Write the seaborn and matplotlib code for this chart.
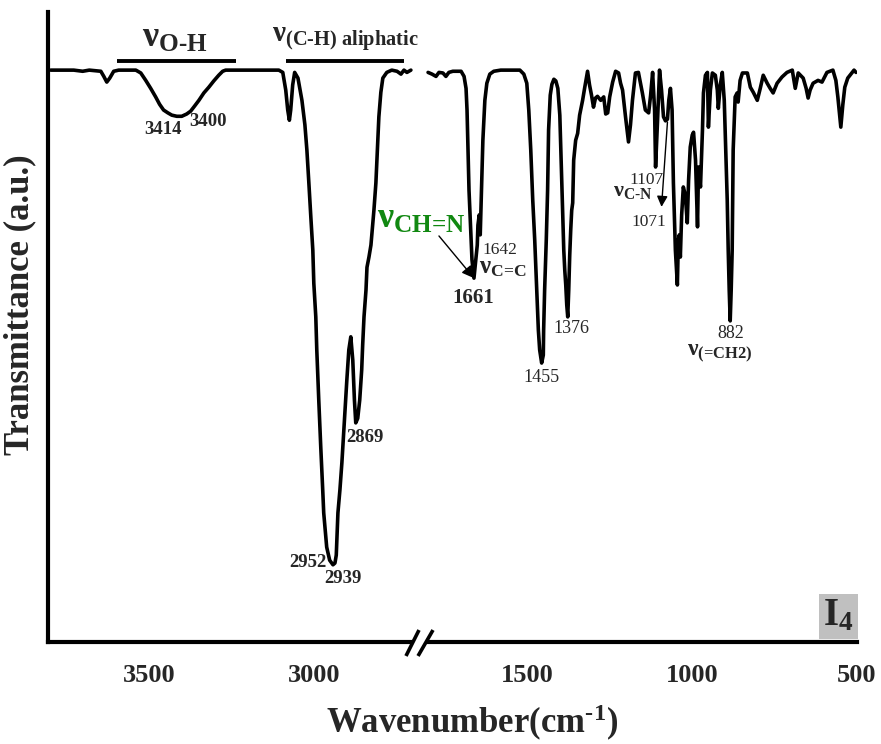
import numpy as np
import pandas as pd
import matplotlib
matplotlib.use("Agg")
import matplotlib.pyplot as plt
import seaborn as sns

# ---------------- data ----------------
# high-wavenumber segment (3800 - 2700 cm-1)
wn_high = [3797, 3727, 3700, 3680, 3645, 3636, 3627, 3618, 3606, 3591, 3539, 3524, 3509,
           3494, 3479, 3467, 3455, 3442, 3430, 3415, 3400, 3385, 3373, 3361, 3348, 3333,
           3318, 3303, 3288, 3276, 3267, 3106, 3094, 3085, 3079, 3074, 3070, 3064, 3058,
           3048, 3036, 3027, 3021, 3015, 3009, 3003, 3000, 2994, 2991, 2985, 2979, 2973,
           2970, 2961, 2952, 2942, 2936, 2932, 2927, 2921, 2915, 2906, 2900, 2894, 2888,
           2882, 2877, 2873, 2867, 2861, 2855, 2852, 2848, 2842, 2839, 2833, 2827, 2818,
           2812, 2803, 2797, 2791, 2779, 2764, 2748, 2736, 2727, 2718, 2706]
t_high = [100.0, 100.0, 99.8, 100.0, 99.8, 98.9, 97.9, 98.6, 99.8, 100.0, 100.0, 99.5, 98.2,
          96.8, 95.3, 94.0, 93.0, 92.5, 92.1, 91.9, 91.9, 92.3, 92.8, 93.7, 94.7, 96.0,
          97.0, 98.1, 99.1, 99.8, 100.0, 100.0, 99.6, 96.5, 93.0, 91.2, 93.0, 97.4, 99.6,
          98.6, 94.7, 90.4, 86.0, 80.2, 74.2, 68.4, 62.6, 56.7, 50.9, 42.1, 33.9, 26.3,
          22.3, 16.3, 14.0, 13.2, 13.5, 14.9, 22.3, 26.3, 31.1, 39.8, 45.6, 50.9, 53.2,
          49.1, 42.1, 38.1, 38.9, 42.1, 47.4, 51.8, 56.7, 61.4, 65.4, 67.2, 69.3, 75.4,
          80.2, 91.8, 96.1, 98.6, 99.6, 100.0, 99.8, 99.3, 100.0, 99.6, 100.0]

# low-wavenumber segment (1800 - 500 cm-1)
wn_low = [1799, 1787, 1775, 1766, 1754, 1745, 1736, 1724, 1699, 1690, 1684, 1681, 1678,
          1675, 1670, 1666, 1660, 1654, 1650, 1648, 1644, 1641, 1638, 1633, 1627, 1621,
          1612, 1600, 1579, 1521, 1509, 1500, 1494, 1488, 1482, 1476, 1470, 1465, 1461,
          1455, 1450, 1449, 1446, 1441, 1437, 1434, 1429, 1424, 1418, 1412, 1406, 1400,
          1396, 1391, 1388, 1385, 1382, 1379, 1376, 1373, 1370, 1367, 1364, 1361, 1358,
          1352, 1346, 1340, 1331, 1325, 1316, 1310, 1304, 1298, 1292, 1286, 1276, 1267,
          1261, 1255, 1249, 1240, 1231, 1222, 1216, 1210, 1201, 1192, 1186, 1180, 1171,
          1162, 1150, 1141, 1131, 1125, 1119, 1113, 1110, 1104, 1098, 1092, 1086, 1080,
          1074, 1070, 1065, 1060, 1056, 1050, 1044, 1041, 1038, 1035, 1031, 1026, 1020,
          1014, 1010, 1005, 999, 995, 989, 983, 980, 974, 968, 965, 959, 953, 950, 944,
          938, 929, 923, 920, 914, 908, 902, 899, 893, 890, 887, 884, 881, 878, 875, 869,
          863, 860, 854, 847, 832, 823, 814, 802, 793, 784, 772, 763, 754, 742, 727, 712,
          696, 687, 678, 663, 654, 648, 642, 633, 618, 606, 591, 573, 564, 558, 549, 543,
          537, 528, 516, 509, 503]
t_low = [99.6, 99.3, 98.9, 99.6, 99.5, 98.9, 99.6, 99.8, 99.8, 98.9, 96.8, 93.0, 86.0,
         78.9, 71.9, 66.7, 63.5, 67.0, 69.3, 72.8, 74.6, 71.1, 77.2, 87.7, 94.7, 97.7,
         99.3, 99.8, 100.0, 100.0, 99.3, 97.7, 93.0, 86.0, 77.2, 70.2, 61.4, 54.4, 50.9,
         48.6, 50.0, 54.4, 61.4, 70.2, 78.9, 89.5, 95.6, 97.5, 98.4, 98.1, 96.8, 92.1,
         84.2, 74.2, 68.4, 64.9, 62.3, 58.8, 56.7, 61.4, 67.5, 71.9, 75.4, 76.7, 84.2,
         87.7, 88.9, 92.1, 94.7, 96.8, 99.8, 97.4, 95.6, 93.5, 95.1, 95.4, 94.7, 95.3,
         92.3, 92.5, 95.3, 97.9, 99.8, 99.5, 97.7, 96.5, 91.8, 87.4, 90.4, 94.7, 99.5,
         99.6, 96.0, 93.0, 92.5, 95.6, 99.6, 93.0, 83.0, 91.2, 100.0, 96.5, 91.8, 91.1,
         91.4, 94.7, 96.8, 93.0, 80.2, 68.4, 62.3, 70.2, 71.1, 67.2, 74.6, 79.5, 78.1,
         73.2, 80.7, 86.5, 88.6, 89.1, 84.2, 72.5, 83.0, 79.5, 89.5, 96.0, 99.1, 99.6,
         90.0, 96.5, 99.5, 99.1, 96.5, 93.3, 97.4, 99.6, 94.7, 88.9, 77.2, 68.4, 61.4,
         56.0, 61.4, 68.4, 86.0, 95.3, 96.0, 94.4, 98.2, 99.5, 99.5, 97.0, 96.1, 94.7,
         96.8, 99.1, 97.7, 96.8, 96.0, 97.7, 98.8, 99.6, 100.0, 96.8, 99.5, 98.6, 96.8,
         95.1, 96.5, 97.7, 98.2, 97.9, 99.6, 100.0, 98.2, 95.3, 90.0, 93.9, 97.0, 98.6,
         99.5, 100.0, 99.6]

major_ticks = [3500, 3000, 1500, 1000, 500]
tick_labels = ["3500", "3000", "1500", "1000", "500"]
minor_ticks = [3750, 3250, 2750, 1750, 1250, 750]

# peak labels: (text, wavenumber, transmittance, bold, size)
peak_labels = [
    ("3414", 3458, 90.0, True, 13.5),
    ("3400", 3321, 91.4, True, 13.5),
    ("2952", 3017, 13.9, True, 13.5),
    ("2939", 2912, 11.1, True, 13.5),
    ("2869", 2845, 35.8, True, 13.5),
    ("1661", 1663, 60.5, True, 15),
    ("1642", 1582, 68.8, False, 12.5),
    ("1107", 1137, 81.1, False, 12.5),
    ("1071", 1131, 73.7, False, 12.5),
    ("882", 881, 54.1, False, 13),
    ("1455", 1455, 46.5, False, 13),
    ("1376", 1364, 55.1, False, 13),
]

# ---------------- style ----------------
sns.set_theme(style="white")
plt.rcParams["font.family"] = ["Liberation Serif", "DejaVu Serif"]
plt.rcParams["mathtext.fontset"] = "custom"
plt.rcParams["mathtext.rm"] = "Liberation Serif:bold"
plt.rcParams["mathtext.bf"] = "Liberation Serif:bold"
plt.rcParams["mathtext.it"] = "Liberation Serif:bold"
plt.rcParams["mathtext.sf"] = "Liberation Serif"
plt.rcParams["mathtext.default"] = "rm"

df = pd.concat([
    pd.DataFrame({"wavenumber": wn_high, "T": t_high, "segment": "high"}),
    pd.DataFrame({"wavenumber": wn_low, "T": t_low, "segment": "low"}),
], ignore_index=True)

# broken axis via a piecewise-linear function scale
BREAK_LO, BREAK_HI, GAP = 1800.0, 2700.0, 45.0


def fwd(w):
    w = np.asarray(w, dtype=float)
    return np.where(w <= BREAK_LO, w,
                    np.where(w >= BREAK_HI, w - (BREAK_HI - BREAK_LO) + GAP,
                             BREAK_LO + (w - BREAK_LO) * GAP / (BREAK_HI - BREAK_LO)))


def inv(u):
    u = np.asarray(u, dtype=float)
    return np.where(u <= BREAK_LO, u,
                    np.where(u >= BREAK_LO + GAP, u + (BREAK_HI - BREAK_LO) - GAP,
                             BREAK_LO + (u - BREAK_LO) * (BREAK_HI - BREAK_LO) / GAP))


fig = plt.figure(figsize=(8.81, 7.44), dpi=100)
ax = fig.add_axes([48 / 881, 1 - 642 / 744, 809 / 881, 630 / 744])
ax.set_xscale("function", functions=(fwd, inv))

sns.lineplot(data=df, x="wavenumber", y="T", units="segment", estimator=None,
             sort=False, color="black", linewidth=2.6, ax=ax, legend=False,
             solid_joinstyle="round", solid_capstyle="round")

ax.set_xlim(3805, 500)
ax.set_ylim(-0.35, 110.2)

for s in ["top", "right"]:
    ax.spines[s].set_visible(False)
for s in ["left", "bottom"]:
    ax.spines[s].set_linewidth(3)
    ax.spines[s].set_color("black")

ax.set_yticks([])
ax.set_xticks(major_ticks)
ax.set_xticks(minor_ticks, minor=True)
ax.set_xticklabels(tick_labels, fontsize=19, fontweight="bold")
ax.tick_params(axis="x", which="major", direction="out", length=10, width=2.5,
               pad=6, color="black")
ax.tick_params(axis="x", which="minor", direction="out", length=5, width=2.5,
               color="black")

ax.set_xlabel(r"Wavenumber(cm$^{\text{-}1}$)", fontsize=25, fontweight="bold")
ax.xaxis.set_label_coords(0.524, -0.145)
ax.xaxis.label.set_verticalalignment("baseline")
ax.set_ylabel("Transmittance (a.u.)", fontsize=25, fontweight="bold")
ax.yaxis.set_label_coords(-0.015, 0.535)

# break marks on the x axis
ax.plot([0.451, 0.467], [0, 0], transform=ax.transAxes, color="white", lw=5,
        clip_on=False, zorder=5, solid_capstyle="butt")
for x0, x1 in [(0.4425, 0.4586), (0.4574, 0.4759)]:
    ax.plot([x0, x1], [-0.0222, 0.019], transform=ax.transAxes, color="black",
            lw=2.6, clip_on=False, zorder=6, solid_capstyle="butt")

# band bars
for a, b in [(3597, 3236), (3085, 2727)]:
    ax.plot([a, b], [101.6, 101.6], color="black", lw=2.8, solid_capstyle="butt")

ax.text(3421, 104.0, r"$ν_{\text{O-H}}$", fontsize=26, ha="center", va="baseline")
ax.text(3127, 104.9, r"$ν_{\text{(C-H) aliphatic}}$", fontsize=21, ha="left",
        va="baseline")
ax.text(2809, 72.3, r"$ν_{\text{CH=N}}$", fontsize=26, ha="left", va="baseline",
        color="#118811")
ax.text(1645, 64.4, r"$ν_{\text{C=C}}$", fontsize=18, ha="left", va="baseline")
ax.text(1240, 77.9, r"$ν_{\text{C-N}}$", fontsize=16, ha="left", va="baseline")
ax.text(1014, 49.8, r"$ν_{\text{(=CH2)}}$", fontsize=17, ha="left", va="baseline")

for txt, w, t, bold, size in peak_labels:
    ax.text(w, t, txt, fontsize=size, fontweight="bold" if bold else "normal",
            ha="center", va="center_baseline")

ax.annotate("", xy=(1660, 63.5), xytext=(1766, 70.9),
            arrowprops=dict(arrowstyle="-|>", color="black", lw=1.0,
                            mutation_scale=18, shrinkA=0, shrinkB=0))
ax.annotate("", xy=(1092, 76.0), xytext=(1074, 90.9),
            arrowprops=dict(arrowstyle="-|>", color="black", lw=1.0,
                            mutation_scale=16, shrinkA=0, shrinkB=0))

ax.text(0.977, 0.041, r"$I_{4}$", transform=ax.transAxes, fontsize=28,
        ha="center", va="center",
        bbox=dict(boxstyle="square,pad=0.1", facecolor="#c0c0c0", edgecolor="none"))

fig.savefig("out.png", dpi=100)
